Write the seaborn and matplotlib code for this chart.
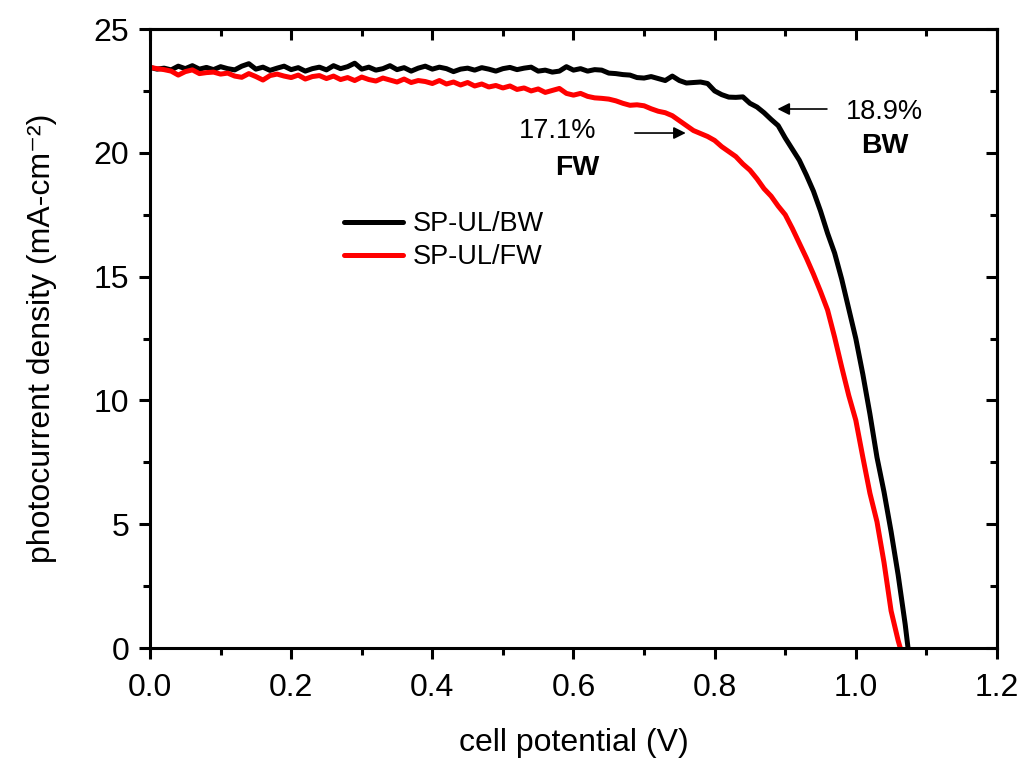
import matplotlib
matplotlib.use("Agg")
import matplotlib.pyplot as plt
from matplotlib.ticker import MultipleLocator, NullFormatter
import seaborn as sns
import pandas as pd

# backward scan (BW), cell potential in V and photocurrent in mA/cm2
v_bw = [0.00, 0.01, 0.02, 0.03, 0.04, 0.05, 0.06, 0.07, 0.08, 0.09,
        0.10, 0.11, 0.12, 0.13, 0.14, 0.15, 0.16, 0.17, 0.18, 0.19,
        0.20, 0.21, 0.22, 0.23, 0.24, 0.25, 0.26, 0.27, 0.28, 0.29,
        0.30, 0.31, 0.32, 0.33, 0.34, 0.35, 0.36, 0.37, 0.38, 0.39,
        0.40, 0.41, 0.42, 0.43, 0.44, 0.45, 0.46, 0.47, 0.48, 0.49,
        0.50, 0.51, 0.52, 0.53, 0.54, 0.55, 0.56, 0.57, 0.58, 0.59,
        0.60, 0.61, 0.62, 0.63, 0.64, 0.65, 0.66, 0.67, 0.68, 0.69,
        0.70, 0.71, 0.72, 0.73, 0.74, 0.75, 0.76, 0.77, 0.78, 0.79,
        0.80, 0.81, 0.82, 0.83, 0.84, 0.85, 0.86, 0.87, 0.88, 0.89,
        0.90, 0.91, 0.92, 0.93, 0.94, 0.95, 0.96, 0.97, 0.98, 0.99,
        1.00, 1.01, 1.02, 1.03, 1.04, 1.05, 1.06, 1.07, 1.074]
j_bw = [23.45, 23.38, 23.42, 23.35, 23.50, 23.40, 23.52, 23.38, 23.45, 23.36,
        23.48, 23.40, 23.35, 23.50, 23.60, 23.38, 23.46, 23.33, 23.42, 23.50,
        23.36, 23.44, 23.30, 23.40, 23.46, 23.35, 23.52, 23.40, 23.48, 23.62,
        23.38, 23.46, 23.34, 23.40, 23.52, 23.36, 23.44, 23.30, 23.42, 23.50,
        23.38, 23.46, 23.40, 23.28, 23.38, 23.42, 23.34, 23.44, 23.38, 23.30,
        23.40, 23.45, 23.36, 23.42, 23.46, 23.30, 23.34, 23.26, 23.30, 23.48,
        23.34, 23.40, 23.30, 23.36, 23.34, 23.22, 23.20, 23.16, 23.14, 23.04,
        23.02, 23.08, 23.00, 22.92, 23.10, 22.92, 22.82, 22.84, 22.86, 22.80,
        22.50, 22.35, 22.25, 22.24, 22.26, 22.00, 21.85, 21.62, 21.35, 21.10,
        20.60, 20.15, 19.70, 19.10, 18.45, 17.65, 16.75, 15.95, 14.90, 13.70,
        12.50, 11.05, 9.45, 7.70, 6.30, 4.70, 2.95, 0.95, 0.00]

# forward scan (FW)
v_fw = [0.00, 0.01, 0.02, 0.03, 0.04, 0.05, 0.06, 0.07, 0.08, 0.09,
        0.10, 0.11, 0.12, 0.13, 0.14, 0.15, 0.16, 0.17, 0.18, 0.19,
        0.20, 0.21, 0.22, 0.23, 0.24, 0.25, 0.26, 0.27, 0.28, 0.29,
        0.30, 0.31, 0.32, 0.33, 0.34, 0.35, 0.36, 0.37, 0.38, 0.39,
        0.40, 0.41, 0.42, 0.43, 0.44, 0.45, 0.46, 0.47, 0.48, 0.49,
        0.50, 0.51, 0.52, 0.53, 0.54, 0.55, 0.56, 0.57, 0.58, 0.59,
        0.60, 0.61, 0.62, 0.63, 0.64, 0.65, 0.66, 0.67, 0.68, 0.69,
        0.70, 0.71, 0.72, 0.73, 0.74, 0.75, 0.76, 0.77, 0.78, 0.79,
        0.80, 0.81, 0.82, 0.83, 0.84, 0.85, 0.86, 0.87, 0.88, 0.89,
        0.90, 0.91, 0.92, 0.93, 0.94, 0.95, 0.96, 0.97, 0.98, 0.99,
        1.00, 1.01, 1.02, 1.03, 1.04, 1.05, 1.06, 1.063]
j_fw = [23.45, 23.40, 23.36, 23.30, 23.14, 23.28, 23.35, 23.20, 23.24, 23.26,
        23.18, 23.22, 23.10, 23.05, 23.20, 23.08, 22.94, 23.12, 23.18, 23.10,
        23.04, 23.14, 22.98, 23.08, 23.12, 23.00, 23.10, 22.96, 23.04, 22.92,
        23.06, 22.96, 22.90, 23.02, 22.94, 22.86, 22.98, 22.84, 22.92, 22.88,
        22.80, 22.92, 22.78, 22.86, 22.74, 22.84, 22.70, 22.78, 22.66, 22.72,
        22.62, 22.70, 22.56, 22.62, 22.50, 22.58, 22.44, 22.52, 22.60, 22.40,
        22.33, 22.40, 22.28, 22.22, 22.20, 22.17, 22.10, 22.00, 21.92, 21.94,
        21.90, 21.78, 21.68, 21.62, 21.50, 21.30, 21.10, 20.90, 20.78, 20.66,
        20.50, 20.25, 20.05, 19.85, 19.55, 19.30, 18.95, 18.55, 18.25, 17.85,
        17.50, 16.95, 16.35, 15.75, 15.10, 14.40, 13.65, 12.55, 11.35, 10.20,
        9.20, 7.70, 6.25, 5.10, 3.45, 1.50, 0.30, 0.00]

labels = ["SP-UL/BW", "SP-UL/FW"]
colors = ["#000000", "#ff0000"]

df = pd.concat([
    pd.DataFrame({"V": v_bw, "J": j_bw, "scan": labels[0]}),
    pd.DataFrame({"V": v_fw, "J": j_fw, "scan": labels[1]}),
], ignore_index=True)

sns.set_style("white", {"text.color": "black", "axes.labelcolor": "black",
                        "xtick.color": "black", "ytick.color": "black",
                        "axes.edgecolor": "black"})
plt.rcParams["font.family"] = ["Liberation Sans", "DejaVu Sans"]

fig = plt.figure(figsize=(10.24, 7.58), dpi=100)
ax = fig.add_axes([0.1465, 0.1451, 0.8271, 0.8166])

sns.lineplot(data=df, x="V", y="J", hue="scan", palette=colors,
             estimator=None, sort=False, linewidth=3.6, ax=ax)

ax.set_xlim(0, 1.2)
ax.set_ylim(0, 25)
ax.xaxis.set_major_locator(MultipleLocator(0.2))
ax.xaxis.set_minor_locator(MultipleLocator(0.1))
ax.yaxis.set_major_locator(MultipleLocator(5))
ax.yaxis.set_minor_locator(MultipleLocator(2.5))
ax.xaxis.set_major_formatter(plt.FuncFormatter(lambda v, p: f"{v:.1f}"))

for s in ax.spines.values():
    s.set_linewidth(2.2)
ax.tick_params(which="major", direction="out", length=8, width=2.2,
               labelsize=23, bottom=True, left=True)
ax.tick_params(which="minor", direction="out", length=5, width=2.2,
               bottom=True, left=True)
ax.tick_params(axis="x", which="major", pad=10)
ax.tick_params(axis="y", which="major", pad=7)

# inward ticks on top and right
top = ax.secondary_xaxis("top")
top.xaxis.set_major_locator(MultipleLocator(0.2))
top.xaxis.set_minor_locator(MultipleLocator(0.1))
top.xaxis.set_major_formatter(NullFormatter())
top.tick_params(which="major", direction="in", length=8, width=2.2)
top.tick_params(which="minor", direction="in", length=5, width=2.2)
right = ax.secondary_yaxis("right")
right.yaxis.set_major_locator(MultipleLocator(5))
right.yaxis.set_minor_locator(MultipleLocator(2.5))
right.yaxis.set_major_formatter(NullFormatter())
right.tick_params(which="major", direction="in", length=8, width=2.2)
right.tick_params(which="minor", direction="in", length=5, width=2.2)
for sa in (top, right):
    for s in sa.spines.values():
        s.set_linewidth(2.2)

ax.set_xlabel("cell potential (V)", fontsize=23, labelpad=18)
ax.set_ylabel("photocurrent density (mA-cm⁻²)", fontsize=23, labelpad=26)

leg = ax.legend(loc="upper left", bbox_to_anchor=(0.2, 0.745), frameon=False,
                fontsize=19.5, handlelength=2.2, handletextpad=0.35,
                labelspacing=0.25)
for h in leg.get_lines():
    h.set_linewidth(3.6)

# efficiency annotations
ax.annotate("", xy=(0.885, 21.77), xytext=(0.963, 21.77),
            arrowprops=dict(arrowstyle="-|>", color="black", lw=1.2,
                            mutation_scale=18))
ax.text(1.041, 21.65, "18.9%", fontsize=19.5, ha="center", va="center")
ax.text(1.041, 20.27, "BW", fontsize=20.5, fontweight="bold",
        ha="center", va="center")
ax.annotate("", xy=(0.763, 20.8), xytext=(0.683, 20.8),
            arrowprops=dict(arrowstyle="-|>", color="black", lw=1.2,
                            mutation_scale=18))
ax.text(0.578, 20.9, "17.1%", fontsize=19.5, ha="center", va="center")
ax.text(0.606, 19.4, "FW", fontsize=20.5, fontweight="bold",
        ha="center", va="center")

fig.savefig("out.png", dpi=100)
